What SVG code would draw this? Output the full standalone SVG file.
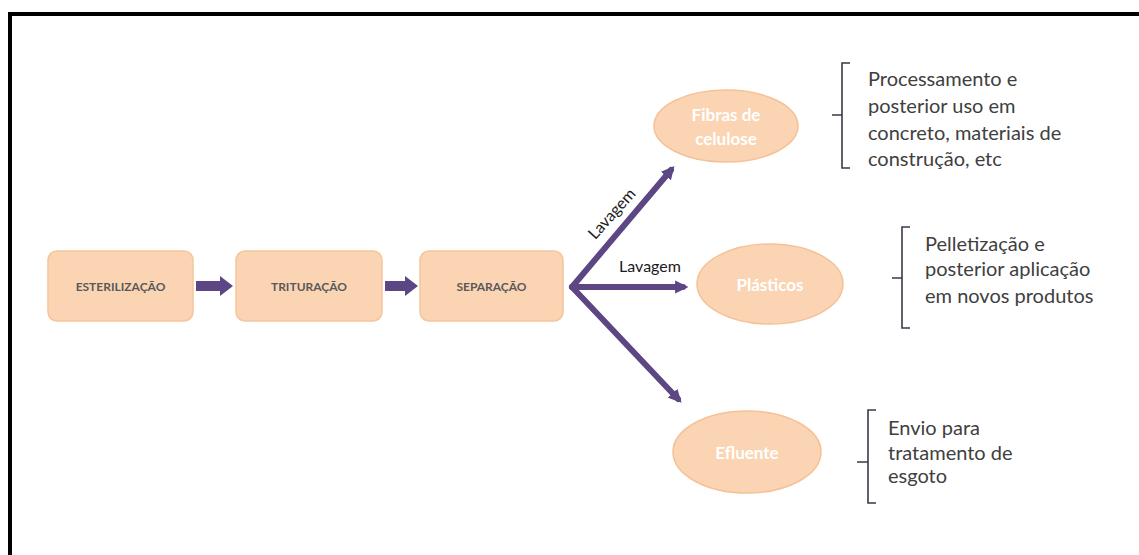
<svg xmlns="http://www.w3.org/2000/svg" width="1139" height="555" viewBox="0 0 1139 555">
<defs>
<style>
.box{fill:#fbd4b4;stroke:#f5c59c;stroke-width:1.5}
.ell{fill:#fbd4b4;stroke:#f5c196;stroke-width:1.5}
.boxt{font-family:Lato,"Liberation Sans",sans-serif;font-weight:bold;font-size:12px;fill:#595959;text-anchor:middle;dominant-baseline:central}
.ellt{font-family:Lato,"Liberation Sans",sans-serif;font-weight:bold;font-size:17px;fill:#ffffff;text-anchor:middle;dominant-baseline:central}
.desc{font-family:Lato,"Liberation Sans",sans-serif;font-size:20px;fill:#404040;dominant-baseline:central}
.lab{font-family:Lato,"Liberation Sans",sans-serif;font-size:16px;fill:#1a1a1a;text-anchor:middle;dominant-baseline:central}
.con{stroke:#5c4784;stroke-width:6;fill:none;stroke-linecap:round}
.br{stroke:#3a3a4a;stroke-width:1.6;fill:none}
.blk{fill:#5c4784}
</style>
<marker id="ah" viewBox="0 0 10 10" refX="6" refY="5" markerWidth="2.2" markerHeight="2.2" orient="auto">
<path d="M0,0 L10,5 L0,10 z" fill="#5c4784"/>
</marker>
</defs>
<rect width="1139" height="555" fill="#ffffff"/>
<path d="M10,555 V14 H1139" fill="none" stroke="#000" stroke-width="4"/>

<g id="esterilizacao"><rect class="box" x="48" y="251" width="145" height="70" rx="9"/><text class="boxt" x="120.5" y="286">ESTERILIZAÇÃO</text></g>
<g id="trituracao"><rect class="box" x="236" y="251" width="146" height="70" rx="9"/><text class="boxt" x="309" y="286">TRITURAÇÃO</text></g>
<g id="separacao"><rect class="box" x="420" y="251" width="143" height="70" rx="9"/><text class="boxt" x="491.5" y="286">SEPARAÇÃO</text></g>

<g id="fibras"><ellipse class="ell" cx="726" cy="126" rx="72" ry="36"/><text class="ellt" x="726" y="114">Fibras de</text><text class="ellt" x="726" y="138">celulose</text></g>
<g id="plasticos"><ellipse class="ell" cx="770" cy="284" rx="73" ry="40"/><text class="ellt" x="770" y="284">Plásticos</text></g>
<g id="efluente"><ellipse class="ell" cx="747" cy="452" rx="74" ry="41"/><text class="ellt" x="747" y="452">Efluente</text></g>

<g id="connectors">
<path class="blk" d="M196,281 H220 V276 L233,286 L220,296 V291 H196 Z"/>
<path class="blk" d="M385,281 H405 V276 L418,286 L405,296 V291 H385 Z"/>
<line class="con" x1="572" y1="287" x2="671" y2="170" marker-end="url(#ah)"/>
<line class="con" x1="572" y1="287" x2="683" y2="287" marker-end="url(#ah)"/>
<line class="con" x1="572" y1="287" x2="678" y2="399" marker-end="url(#ah)"/>
<text class="lab" x="611" y="213" transform="rotate(-48 611 213)">Lavagem</text>
<text class="lab" x="650" y="265">Lavagem</text>
</g>

<g id="desc-fibras">
<path class="br" d="M850,63 H842 V168 H850 M842,115 H832"/>
<text class="desc" x="868" y="78">Processamento e</text>
<text class="desc" x="868" y="105">posterior uso em</text>
<text class="desc" x="868" y="132">concreto, materiais de</text>
<text class="desc" x="868" y="158">construção, etc</text>
</g>
<g id="desc-plasticos">
<path class="br" d="M910,227 H902 V328 H910 M902,278 H892"/>
<text class="desc" x="925" y="243">Pelletização e</text>
<text class="desc" x="925" y="268">posterior aplicação</text>
<text class="desc" x="925" y="295">em novos produtos</text>
</g>
<g id="desc-efluente">
<path class="br" d="M876,410 H868 V503 H876 M868,462 H857"/>
<text class="desc" x="888" y="427">Envio para</text>
<text class="desc" x="888" y="452">tratamento de</text>
<text class="desc" x="888" y="475">esgoto</text>
</g>
</svg>
